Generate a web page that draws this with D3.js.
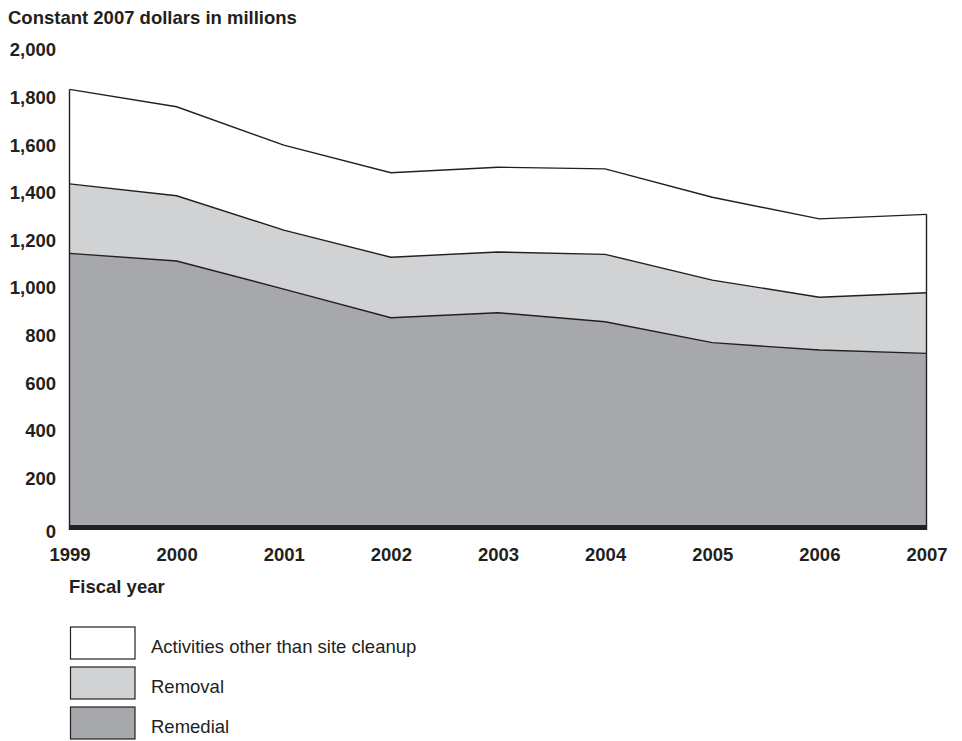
<!DOCTYPE html>
<html><head><meta charset="utf-8">
<script src="https://cdn.jsdelivr.net/npm/d3@7"></script>
<style>
body{margin:0;background:#fff;}
text{font-family:"Liberation Sans",Arial,Helvetica,sans-serif;fill:#231f20;}
</style></head>
<body><svg id="c" width="962" height="741"></svg>
<script>
const years = ["1999","2000","2001","2002","2003","2004","2005","2006","2007"];
const remedial = [1143,1111,993,873,894,856,768,737,723];
const removal  = [292,274,248,254,255,283,263,222,255];
const other    = [397,374,357,355,356,359,348,329,329];
const seriesNames = ["Remedial","Removal","Activities other than site cleanup"];
const yTicks = [0,200,400,600,800,1000,1200,1400,1600,1800,2000];

const FS = 18.5;
const svg = d3.select("#c");
const x = d3.scalePoint().domain(years).range([69.5, 926.5]);
const y = d3.scaleLinear().domain([0,2000]).range([525.5, 49.4]);

const table = years.map((yr,i)=>({year:yr, Remedial:remedial[i], Removal:removal[i], "Activities other than site cleanup":other[i]}));
const stack = d3.stack().keys(seriesNames)(table);
const fills = {"Remedial":"#a7a8ab","Removal":"#d1d2d4","Activities other than site cleanup":"#ffffff"};

const area = d3.area().x(d=>x(d.data.year)).y0(d=>y(d[0])).y1(d=>y(d[1]));
svg.append("g").selectAll("path").data(stack).join("path")
  .attr("d", area).attr("fill", d=>fills[d.key]).attr("stroke","none");

const line = d3.line().x(d=>x(d.data.year)).y(d=>y(d[1]));
svg.append("g").selectAll("path").data(stack).join("path")
  .attr("d", line).attr("fill","none").attr("stroke","#231f20").attr("stroke-width",1.4);

// side edges
const topS = stack[stack.length-1];
[0, years.length-1].forEach(i=>{
  svg.append("line").attr("x1",x(years[i])).attr("x2",x(years[i]))
    .attr("y1",y(topS[i][1])).attr("y2",y(0))
    .attr("stroke","#231f20").attr("stroke-width",1.4);
});

// baseline band
svg.append("line").attr("x1",x(years[0])-0.7).attr("x2",x(years[years.length-1])+0.7)
  .attr("y1",y(0)+2).attr("y2",y(0)+2).attr("stroke","#231f20").attr("stroke-width",5);

// y axis labels
const yAxis = d3.axisLeft(y).tickValues(yTicks).tickSize(0).tickPadding(0)
  .tickFormat(d3.format(","));
const ga = svg.append("g").attr("transform","translate(56,0)").call(yAxis);
ga.select(".domain").remove();
ga.selectAll("text").attr("font-size",FS).attr("font-weight","bold")
  .attr("fill","#231f20").style("font-family",'"Liberation Sans",Arial,sans-serif')
  .attr("dy", d=> d===0 ? "0.64em" : "0.35em");

// x axis labels
const xAxis = d3.axisBottom(x).tickSize(0).tickPadding(0);
const gx = svg.append("g").attr("transform","translate(0,548)").call(xAxis);
gx.select(".domain").remove();
gx.selectAll("text").attr("font-size",FS).attr("font-weight","bold")
  .attr("fill","#231f20").style("font-family",'"Liberation Sans",Arial,sans-serif');

svg.append("text").attr("x",8).attr("y",23.5).attr("font-size",FS).attr("font-weight","bold")
  .text("Constant 2007 dollars in millions");
svg.append("text").attr("x",69).attr("y",593.3).attr("font-size",FS).attr("font-weight","bold")
  .text("Fiscal year");

// legend
const legendOrder = ["Activities other than site cleanup","Removal","Remedial"];
const lg = svg.append("g");
legendOrder.forEach((k,i)=>{
  lg.append("rect").attr("x",70.5).attr("y",627+i*40).attr("width",64.5).attr("height",32)
    .attr("fill",fills[k]).attr("stroke","#231f20").attr("stroke-width",1.2);
  lg.append("text").attr("x",151).attr("y",647+i*40).attr("dy","0.35em")
    .attr("font-size",FS).text(k);
});
</script></body></html>
